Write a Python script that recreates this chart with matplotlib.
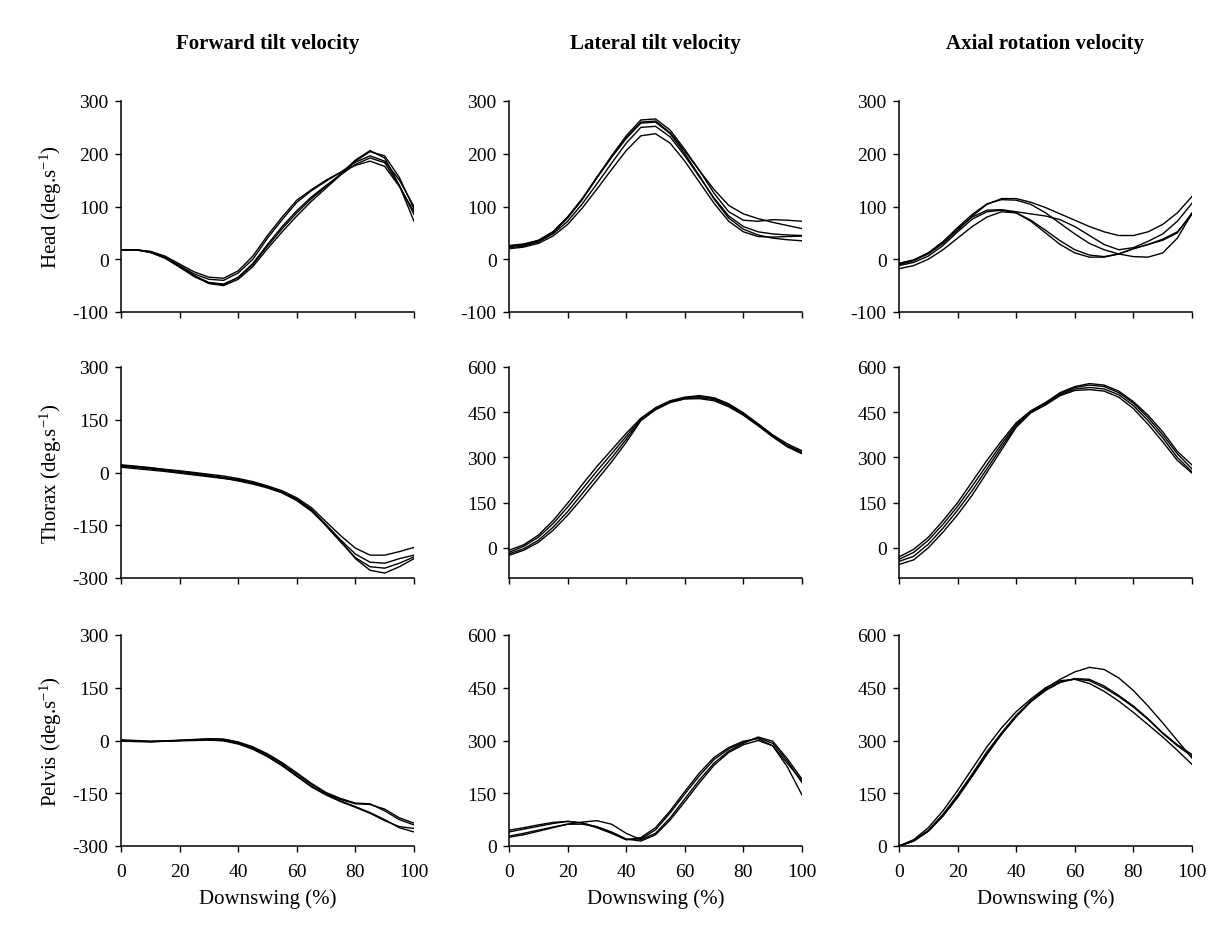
import matplotlib.pyplot as plt
from matplotlib.ticker import FixedLocator

plt.rcParams['font.family'] = ['Liberation Serif', 'DejaVu Serif']
plt.rcParams['mathtext.fontset'] = 'custom'
plt.rcParams['mathtext.rm'] = 'Liberation Serif'
plt.rcParams['mathtext.it'] = 'Liberation Serif:italic'
plt.rcParams['axes.unicode_minus'] = False

# downswing percent, sampled every 5 %
downswing = [0, 5, 10, 15, 20, 25, 30, 35, 40, 45, 50,
             55, 60, 65, 70, 75, 80, 85, 90, 95, 100]

col_titles = ['Forward tilt velocity', 'Lateral tilt velocity', 'Axial rotation velocity']
row_labels = ['Head', 'Thorax', 'Pelvis']

# Head
head_fwd = [
    [18, 18, 14, 4, -12, -28, -38, -40, -26, 0, 40, 75, 108, 130, 148, 165, 184, 196, 186, 150, 100],
    [17, 18, 13, 2, -15, -33, -45, -48, -34, -8, 28, 62, 92, 118, 140, 160, 180, 192, 183, 140, 85],
    [18, 18, 15, 6, -9, -24, -34, -36, -22, 6, 45, 80, 112, 132, 150, 165, 178, 186, 176, 138, 90],
    [17, 18, 14, 3, -14, -32, -46, -50, -38, -14, 20, 52, 82, 110, 135, 160, 186, 204, 196, 155, 95],
    [18, 18, 13, 3, -13, -31, -44, -47, -35, -10, 25, 58, 88, 115, 138, 162, 188, 206, 192, 140, 72],
]
head_lat = [
    [25, 28, 35, 52, 80, 115, 156, 194, 230, 260, 262, 240, 205, 168, 132, 102, 86, 77, 70, 64, 58],
    [22, 25, 33, 50, 78, 113, 155, 196, 234, 264, 266, 245, 208, 168, 125, 90, 74, 72, 75, 74, 72],
    [24, 27, 33, 48, 72, 105, 143, 182, 220, 250, 252, 232, 196, 156, 116, 82, 62, 52, 48, 46, 45],
    [20, 23, 30, 44, 66, 97, 133, 170, 206, 234, 238, 220, 186, 146, 106, 72, 52, 43, 42, 43, 44],
    [26, 29, 36, 52, 80, 114, 154, 193, 229, 258, 260, 238, 200, 158, 114, 78, 57, 46, 40, 37, 35],
]
head_axial = [
    [-8, -2, 10, 30, 55, 82, 104, 115, 115, 108, 98, 86, 74, 62, 52, 45, 45, 52, 66, 88, 119],
    [-10, -3, 12, 33, 60, 85, 105, 113, 112, 104, 88, 68, 48, 30, 18, 10, 5, 4, 12, 40, 87],
    [-8, -1, 12, 33, 58, 80, 93, 94, 90, 86, 82, 75, 62, 45, 28, 18, 22, 34, 48, 72, 106],
    [-12, -6, 6, 26, 52, 76, 90, 93, 88, 72, 50, 28, 12, 4, 4, 10, 20, 28, 38, 52, 85],
    [-18, -12, 0, 18, 40, 62, 80, 90, 88, 74, 55, 35, 18, 8, 5, 10, 20, 28, 36, 50, 88],
]

# Thorax
thorax_fwd = [
    [20, 17, 13, 9, 5, 0, -5, -10, -17, -26, -38, -52, -72, -100, -140, -180, -215, -235, -235, -225, -213],
    [22, 18, 14, 8, 3, -2, -8, -14, -20, -28, -40, -55, -75, -105, -148, -192, -232, -255, -258, -245, -235],
    [15, 11, 7, 3, -2, -7, -12, -17, -22, -30, -42, -57, -78, -108, -152, -198, -242, -268, -272, -258, -240],
    [18, 14, 10, 5, 0, -5, -10, -16, -24, -33, -44, -58, -80, -110, -150, -195, -245, -278, -286, -268, -245],
]
thorax_lat = [
    [-8, 10, 42, 90, 148, 210, 270, 325, 380, 430, 465, 488, 500, 505, 498, 478, 448, 412, 375, 345, 322],
    [-15, 5, 35, 80, 135, 195, 255, 312, 370, 428, 462, 486, 498, 502, 495, 475, 445, 410, 372, 340, 318],
    [-20, -3, 25, 68, 120, 180, 240, 298, 360, 425, 460, 484, 495, 498, 492, 472, 442, 408, 370, 338, 315],
    [-25, -8, 18, 58, 108, 165, 225, 285, 350, 422, 458, 482, 494, 495, 488, 468, 440, 405, 368, 335, 312],
]
thorax_axial = [
    [-30, -5, 35, 90, 150, 220, 290, 355, 415, 455, 482, 515, 535, 545, 540, 520, 485, 440, 385, 320, 275],
    [-38, -15, 25, 78, 138, 205, 275, 345, 410, 452, 480, 512, 532, 540, 535, 515, 480, 432, 375, 312, 262],
    [-45, -28, 12, 65, 125, 190, 262, 335, 405, 450, 476, 508, 527, 532, 527, 508, 472, 422, 365, 300, 252],
    [-55, -40, 0, 52, 110, 175, 250, 325, 400, 448, 474, 505, 522, 525, 520, 500, 462, 410, 352, 290, 248],
]

# Pelvis
pelvis_fwd = [
    [0, -2, -3, -2, 0, 2, 4, 3, -6, -20, -40, -66, -95, -125, -150, -168, -180, -182, -195, -220, -235],
    [2, 0, -2, -1, 1, 3, 5, 4, -4, -18, -38, -63, -92, -122, -148, -165, -178, -180, -200, -225, -240],
    [-2, -3, -4, -2, 0, 1, 2, 0, -8, -22, -44, -70, -100, -130, -153, -172, -188, -205, -225, -248, -260],
    [0, -1, -3, -2, -1, 0, 1, -1, -10, -25, -46, -72, -102, -132, -155, -174, -190, -207, -228, -245, -250],
]
pelvis_lat = [
    [45, 52, 60, 67, 70, 65, 52, 36, 18, 24, 52, 100, 155, 208, 252, 280, 298, 305, 285, 235, 185],
    [40, 48, 56, 64, 70, 66, 54, 38, 18, 20, 46, 94, 148, 200, 246, 276, 295, 308, 292, 242, 180],
    [28, 36, 45, 54, 62, 68, 72, 62, 36, 18, 36, 80, 134, 188, 236, 270, 292, 310, 298, 248, 190],
    [25, 32, 42, 52, 62, 62, 55, 40, 20, 14, 32, 74, 126, 180, 230, 266, 288, 300, 285, 225, 145],
]
pelvis_axial = [
    [0, 14, 42, 86, 140, 200, 262, 318, 368, 412, 448, 474, 495, 508, 502, 478, 442, 398, 350, 300, 250],
    [0, 15, 45, 90, 145, 205, 268, 322, 372, 412, 445, 466, 475, 470, 450, 425, 395, 360, 320, 285, 255],
    [0, 14, 42, 85, 138, 198, 260, 318, 368, 410, 442, 465, 476, 474, 455, 428, 398, 362, 322, 288, 260],
    [0, 18, 52, 100, 158, 220, 282, 336, 382, 418, 450, 470, 474, 462, 440, 412, 380, 345, 310, 272, 232],
]

panels = [[head_fwd, head_lat, head_axial],
          [thorax_fwd, thorax_lat, thorax_axial],
          [pelvis_fwd, pelvis_lat, pelvis_axial]]

# y-limits and ticks for each panel
ylims = [[(-100, 300), (-100, 300), (-100, 300)],
         [(-300, 300), (-100, 600), (-100, 600)],
         [(-300, 300), (0, 600), (0, 600)]]
yticks = [[[-100, 0, 100, 200, 300]] * 3,
          [[-300, -150, 0, 150, 300], [0, 150, 300, 450, 600], [0, 150, 300, 450, 600]],
          [[-300, -150, 0, 150, 300], [0, 150, 300, 450, 600], [0, 150, 300, 450, 600]]]

fig = plt.figure(figsize=(12.19, 9.28), dpi=100)

lefts = [121, 509, 899]
tops = [102, 368, 636]
w, h = 293, 211
W, H = 1219, 928

for r in range(3):
    for c in range(3):
        ax = fig.add_axes([lefts[c] / W, 1 - (tops[r] + h) / H, w / W, h / H])
        for curve in panels[r][c]:
            ax.plot(downswing, curve, color='black', lw=1.0)
        ax.set_xlim(0, 100)
        ax.set_ylim(*ylims[r][c])
        ax.xaxis.set_major_locator(FixedLocator([0, 20, 40, 60, 80, 100]))
        ax.yaxis.set_major_locator(FixedLocator(yticks[r][c]))
        for s in ['top', 'right']:
            ax.spines[s].set_visible(False)
        for s in ['left', 'bottom']:
            ax.spines[s].set_linewidth(1.1)
        ax.tick_params(direction='out', length=4, width=1.0, labelsize=14)
        ax.tick_params(axis='y', pad=5)
        ax.tick_params(axis='x', pad=8)
        if r < 2:
            ax.set_xticklabels([])
        else:
            ax.set_xlabel('Downswing (%)', fontsize=15, labelpad=6)
        if c == 0:
            ax.set_ylabel(row_labels[r] + ' (deg.s$^{-1}$)', fontsize=15, labelpad=6)
        if r == 0:
            ax.set_title(col_titles[c], fontsize=15, fontweight='bold', pad=38)

fig.savefig('out.png', dpi=100, facecolor='white')
